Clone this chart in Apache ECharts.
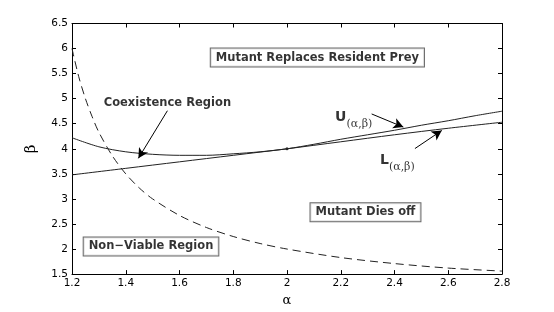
<!DOCTYPE html>
<html>
<head>
<meta charset="utf-8">
<script src="https://cdn.jsdelivr.net/npm/echarts@6/dist/echarts.min.js"></script>
<style>html,body{margin:0;padding:0;background:#fff}#c{width:554px;height:312px}</style>
</head>
<body>
<div id="c"></div>
<script>
// ---- data ----
const alphaTicks = [1.2, 1.4, 1.6, 1.8, 2.0, 2.2, 2.4, 2.6, 2.8];
const betaTicks = [1.5, 2, 2.5, 3, 3.5, 4, 4.5, 5, 5.5, 6, 6.5];

const upperAlpha = [1.2, 1.3, 1.4, 1.5, 1.6, 1.7, 1.8, 1.9, 2.0, 2.1, 2.2, 2.3, 2.4, 2.5, 2.6, 2.7, 2.8];
const upperBeta  = [4.22, 4.04, 3.94, 3.89, 3.87, 3.87, 3.90, 3.94, 4.00, 4.09, 4.19, 4.28, 4.37, 4.47, 4.56, 4.66, 4.75];

const lowerAlpha = [1.2, 1.4, 1.6, 1.8, 2.0, 2.2, 2.4, 2.6, 2.8];
const lowerBeta  = [3.48, 3.61, 3.74, 3.87, 4.00, 4.14, 4.28, 4.41, 4.53];

const viableAlpha = [1.2, 1.225, 1.25, 1.275, 1.3, 1.35, 1.4, 1.45, 1.5, 1.6, 1.7, 1.8, 1.9, 2.0, 2.2, 2.4, 2.6, 2.8];
const viableBeta  = [6.0, 5.44, 5.0, 4.64, 4.33, 3.86, 3.5, 3.22, 3.0, 2.67, 2.43, 2.25, 2.11, 2.0, 1.83, 1.71, 1.62, 1.56];

const touchPoint = [[2.0, 4.0]];

const boxLabels = ['Mutant Replaces Resident Prey', 'Mutant Dies off', 'Non\u2212Viable Region'];
const boxCoords = [[2.113, 5.82], [2.292, 2.733], [1.494, 2.052]];
const plainLabels = ['Coexistence Region'];
const plainCoords = [[1.555, 4.92]];
const curveLabels = ['U', 'L'];
const curveLabelCoords = [[2.179, 4.77], [2.346, 3.91]];
const arrowFrom = [[1.555, 4.76], [2.315, 4.695], [2.476, 4.005]];
const arrowTo   = [[1.447, 3.81], [2.433, 4.433], [2.576, 4.366]];

const zip = (a, b) => a.map((v, i) => [v, b[i]]);
const FONT = 'DejaVu Sans';
const INK = '#000';

const chart = echarts.init(document.getElementById('c'));

const axisCommon = {
  type: 'value',
  axisLine: { show: true, lineStyle: { color: INK, width: 1 } },
  axisTick: { show: true, inside: true, length: 4, lineStyle: { color: INK } },
  splitLine: { show: false }
};

chart.setOption({
  animation: false,
  backgroundColor: '#fff',
  grid: { left: 72, right: 52, top: 23.5, bottom: 35, containLabel: false },
  xAxis: [
    Object.assign({}, axisCommon, {
      position: 'bottom', min: 1.2, max: 2.8, interval: 0.2,
      axisLabel: { color: INK, fontFamily: FONT, fontSize: 10.5, margin: 4 },
      name: '\u03b1', nameLocation: 'middle', nameGap: 6,
      nameTextStyle: { color: INK, fontFamily: 'DejaVu Serif', fontSize: 13, verticalAlign: 'top' }
    }),
    Object.assign({}, axisCommon, {
      position: 'top', min: 1.2, max: 2.8, interval: 0.2, axisLabel: { show: false }
    })
  ],
  yAxis: [
    Object.assign({}, axisCommon, {
      position: 'left', min: 1.5, max: 6.5, interval: 0.5,
      axisLabel: { color: INK, fontFamily: FONT, fontSize: 10.5, margin: 4 },
      name: '\u03b2', nameLocation: 'middle', nameGap: 33, nameRotate: 90,
      nameTextStyle: { color: INK, fontFamily: 'DejaVu Serif', fontSize: 15 }
    }),
    Object.assign({}, axisCommon, {
      position: 'right', min: 1.5, max: 6.5, interval: 0.5, axisLabel: { show: false }
    })
  ],
  series: [
    {
      type: 'line', data: zip(upperAlpha, upperBeta), smooth: 0.3, symbol: 'none',
      lineStyle: { color: '#222', width: 1 }
    },
    {
      type: 'line', data: zip(lowerAlpha, lowerBeta), smooth: 0.3, symbol: 'none',
      lineStyle: { color: '#222', width: 1 }
    },
    {
      type: 'line', data: zip(viableAlpha, viableBeta), smooth: 0.3, symbol: 'none',
      lineStyle: { color: '#222', width: 1, type: [8, 5] }
    },
    {
      type: 'scatter', data: touchPoint, symbolSize: 3, itemStyle: { color: '#000' }
    },
    {
      type: 'scatter', symbolSize: 0, silent: true,
      data: boxLabels.map((t, i) => ({ value: boxCoords[i], name: t })),
      label: {
        show: true, position: 'inside', formatter: p => p.name,
        color: '#000', fontFamily: FONT, fontWeight: 'bold', fontSize: 11.5,
        backgroundColor: '#fff', borderColor: '#444', borderWidth: 1,
        padding: [3, 5, 3, 5]
      }
    },
    {
      type: 'scatter', symbolSize: 0, silent: true,
      data: plainLabels.map((t, i) => ({ value: plainCoords[i], name: t })),
      label: {
        show: true, position: 'inside', formatter: p => p.name,
        color: '#000', fontFamily: FONT, fontWeight: 'bold', fontSize: 11.5
      }
    },
    {
      type: 'scatter', symbolSize: 0, silent: true,
      data: curveLabels.map((t, i) => ({ value: curveLabelCoords[i], name: t })),
      label: {
        show: true, position: 'inside', align: 'left', verticalAlign: 'top',
        formatter: p => '{m|' + p.name + '}{s|(\u03b1,\u03b2)}',
        rich: {
          m: { color: '#000', fontFamily: FONT, fontWeight: 'bold', fontSize: 14, verticalAlign: 'top' },
          s: { color: '#000', fontFamily: 'DejaVu Serif', fontSize: 11, padding: [8, 0, 0, 0] }
        }
      }
    },
    {
      type: 'line', data: [], silent: true,
      markLine: {
        silent: true, animation: false,
        symbol: ['none', 'arrow'], symbolSize: [8, 10],
        lineStyle: { color: '#000', width: 1, type: 'solid' },
        label: { show: false },
        data: arrowFrom.map((f, i) => [{ coord: f }, { coord: arrowTo[i] }])
      }
    }
  ]
});
</script>
</body>
</html>
